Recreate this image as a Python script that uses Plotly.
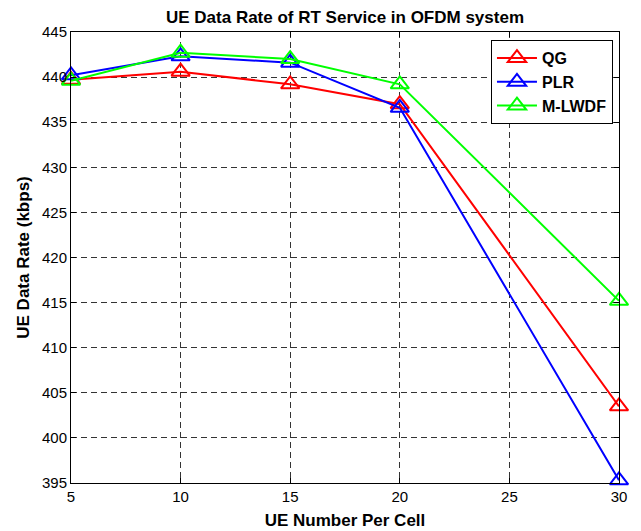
import plotly.graph_objects as go

ue_number = [5, 10, 15, 20, 30]
qg = [439.7, 440.6, 439.2, 437.0, 403.5]
plr = [440.2, 442.3, 441.6, 436.6, 395.3]
mlwdf = [439.6, 442.7, 442.0, 439.2, 415.2]
x_ticks = [5, 10, 15, 20, 25, 30]
y_ticks = [395, 400, 405, 410, 415, 420, 425, 430, 435, 440, 445]

series = [("QG", qg, "#ff0000"), ("PLR", plr, "#0000ff"), ("M-LWDF", mlwdf, "#00ff00")]

fig = go.Figure()
for name, vals, col in series:
    fig.add_trace(go.Scatter(
        x=ue_number, y=vals, name="<b>" + name + "</b>", mode="lines+markers",
        line=dict(color=col, width=2),
        marker=dict(symbol="triangle-up-open", size=16, color=col, line=dict(width=2, color=col)),
        cliponaxis=False,
    ))

font = "Liberation Sans, Arial, Helvetica, sans-serif"
axis_common = dict(
    showline=True, linecolor="black", linewidth=1, mirror="ticks",
    ticks="inside", ticklen=5, tickcolor="black",
    showgrid=True, gridcolor="#333", griddash="6px,4px", gridwidth=1,
    zeroline=False, automargin=False,
    tickfont=dict(family=font, size=15, color="black"),
)
fig.update_xaxes(range=[5, 30], tickvals=x_ticks,
                 title=dict(text="<b>UE Number Per Cell</b>", font=dict(family=font, size=17, color="black"), standoff=10),
                 **axis_common)
fig.update_yaxes(range=[395, 445], tickvals=y_ticks,
                 title=dict(text="<b>UE Data Rate (kbps)</b>", font=dict(family=font, size=17, color="black"), standoff=8),
                 **axis_common)

fig.update_layout(
    width=641, height=531,
    margin=dict(l=71, r=22, t=32, b=48),
    paper_bgcolor="white", plot_bgcolor="white",
    title=dict(text="<b>UE Data Rate of RT Service in OFDM system</b>",
               font=dict(family=font, size=17, color="black"),
               x=(71 + 619) / 2 / 641, xanchor="center", y=1 - 17 / 531, yanchor="middle"),
    legend=dict(x=0.989, y=0.982, xanchor="right", yanchor="top",
                bordercolor="black", borderwidth=1, bgcolor="white",
                font=dict(family=font, size=16, color="black"),
                itemwidth=40, tracegroupgap=0),
    showlegend=True,
)

fig.write_html("out.html")
